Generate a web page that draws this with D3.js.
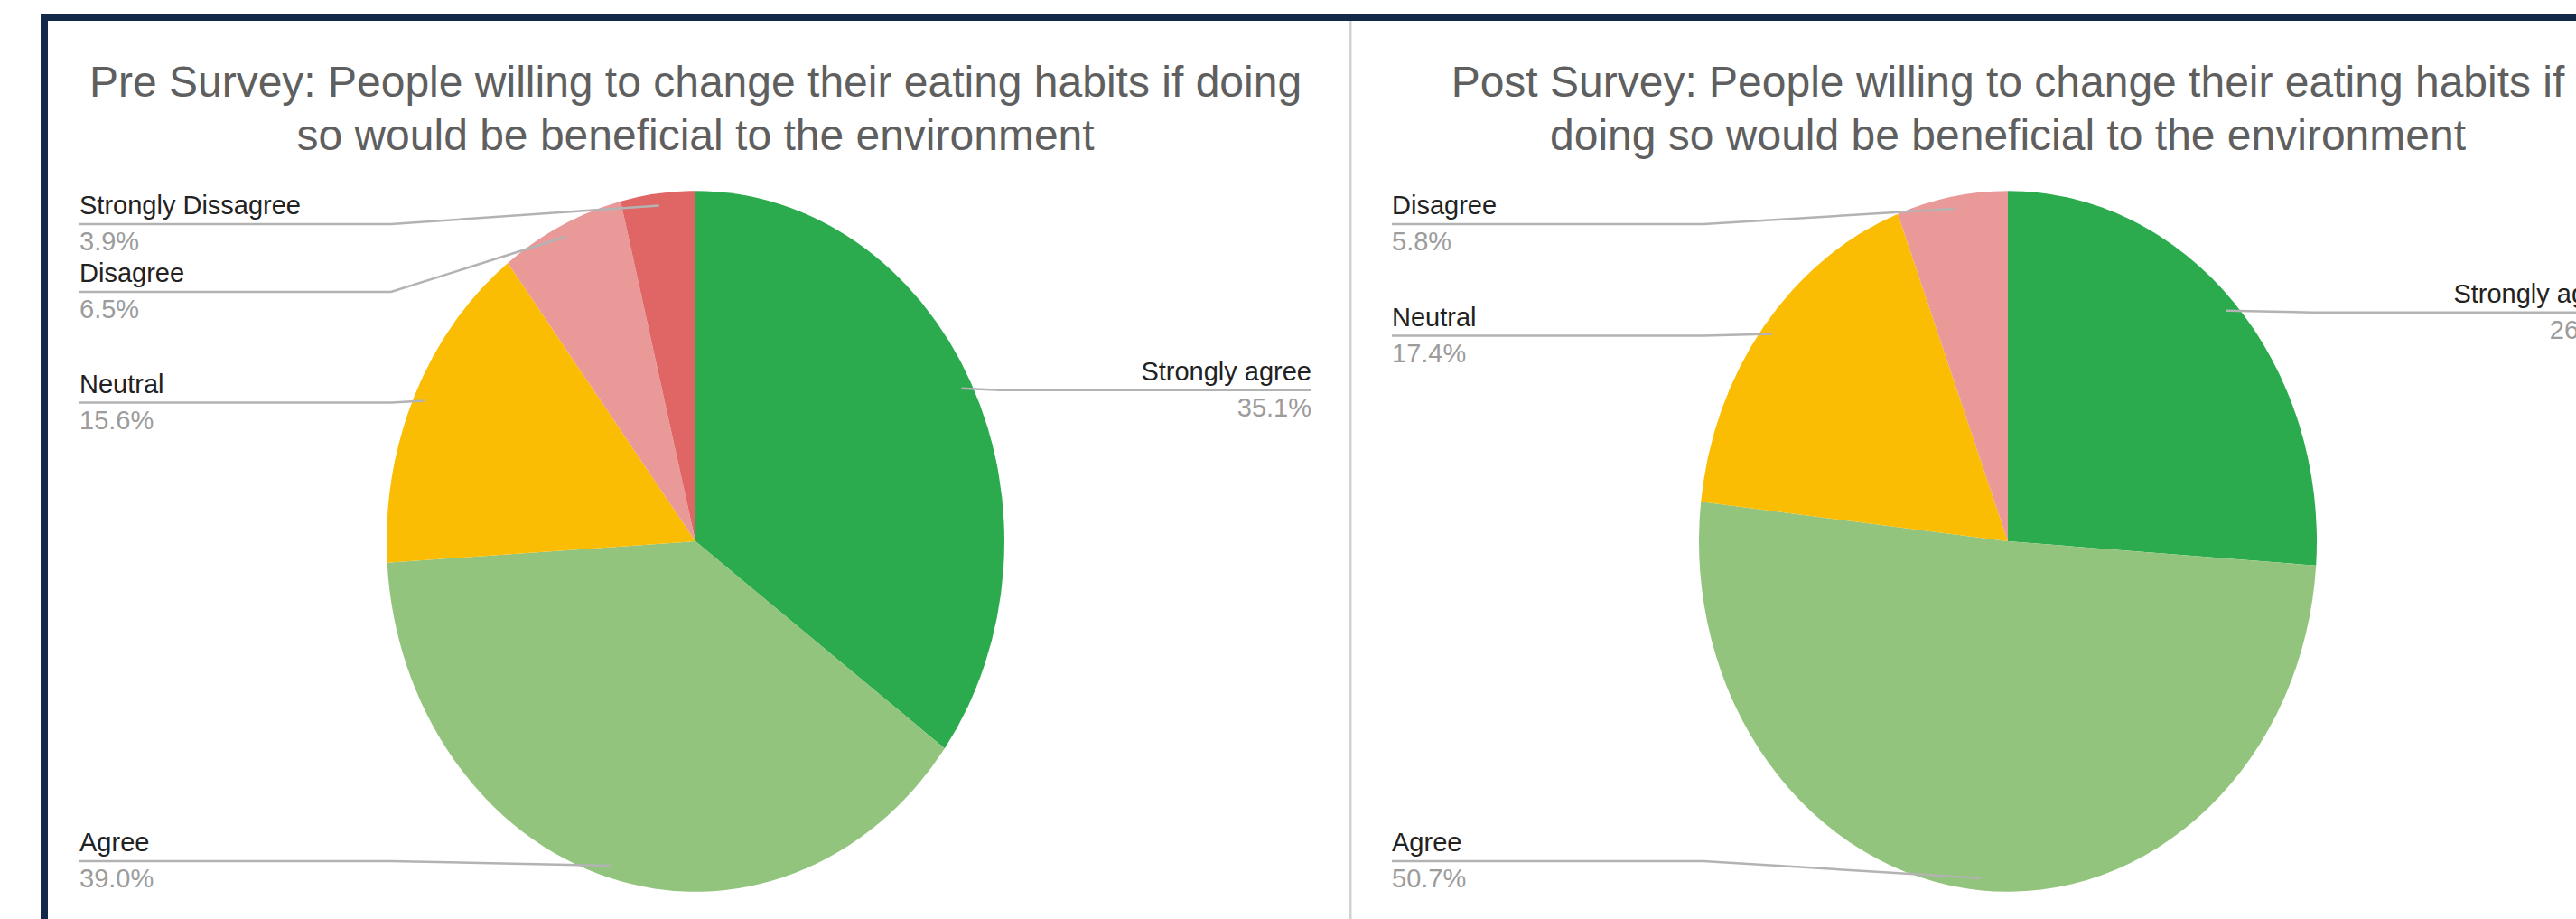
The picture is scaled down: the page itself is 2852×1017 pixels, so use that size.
<!DOCTYPE html>
<html>
<head>
<meta charset="utf-8">
<script src="https://cdn.jsdelivr.net/npm/d3@7"></script>
<style>
  html, body { margin: 0; padding: 0; background: #ffffff; }
  svg { display: block; }
  text { font-family: "Liberation Sans", Arial, "DejaVu Sans", sans-serif; }
</style>
</head>
<body>
<script>
// Survey answers (percent of respondents), before and after
const preLabels = ["Strongly agree", "Agree", "Neutral", "Disagree", "Strongly Dissagree"];
const preValues = [35.1, 39.0, 15.6, 6.5, 3.9];

const postLabels = ["Strongly agree", "Agree", "Neutral", "Disagree"];
const postValues = [26.1, 50.7, 17.4, 5.8];

const answerColors = {
  "Strongly agree": "#2baa4e",
  "Agree": "#93c47d",
  "Neutral": "#fbbc04",
  "Disagree": "#ea9999",
  "Strongly Dissagree": "#e06666"
};

const preTitle = ["Pre Survey: People willing to change their eating habits if doing",
                  "so would be beneficial to the environment"];
const postTitle = ["Post Survey: People willing to change their eating habits if",
                   "doing so would be beneficial to the environment"];

const W = 2852, H = 1017;
const svg = d3.select("body").append("svg").attr("width", W).attr("height", H);
svg.append("rect").attr("width", W).attr("height", H).attr("fill", "#ffffff");

// Outer frame (top and left edges) and the divider between the two panels
svg.append("rect").attr("x", 45).attr("y", 15).attr("width", W - 45).attr("height", 8).attr("fill", "#13294a");
svg.append("rect").attr("x", 45).attr("y", 15).attr("width", 8).attr("height", H - 15).attr("fill", "#13294a");
svg.append("line").attr("x1", 1495).attr("x2", 1495).attr("y1", 23).attr("y2", H)
  .attr("stroke", "#d2d2d2").attr("stroke-width", 3);

const radius = 342;        // horizontal radius of the pie
const stretchY = 1.134;    // vertical stretch of the pie
const labelOffset = 682;   // distance of the label column from the pie centre
const elbowLen = 345;      // length of the horizontal part of each leader line
const topLine = 248, bottomLine = 953, minGap = 75;

function drawPie(cx, cy, labels, values, title) {
  const g = svg.append("g");

  // title
  title.forEach((line, i) => {
    g.append("text")
      .attr("x", cx).attr("y", 107 + i * 59)
      .attr("text-anchor", "middle")
      .attr("font-size", 48)
      .attr("fill", "#5f5f5f")
      .text(line);
  });

  const data = labels.map((l, i) => ({ label: l, value: values[i] }));
  const pie = d3.pie().sort(null).value(d => d.value);
  const arcs = pie(data);
  const arc = d3.arc().innerRadius(0).outerRadius(radius);
  const anchorArc = d3.arc().innerRadius(radius * 0.965).outerRadius(radius * 0.965);

  const pieG = g.append("g").attr("transform", `translate(${cx},${cy}) scale(1,${stretchY})`);
  pieG.selectAll("path").data(arcs).join("path")
    .attr("d", arc)
    .attr("fill", d => answerColors[d.data.label]);

  // anchor points inside each slice, in page coordinates
  const items = arcs.map(d => {
    const c = anchorArc.centroid(d);
    return {
      d,
      ax: cx + c[0],
      ay: cy + c[1] * stretchY,
      side: c[0] >= 0 ? "right" : "left"
    };
  });

  // stack labels on each side, keeping them apart and inside the panel
  ["left", "right"].forEach(side => {
    const s = items.filter(it => it.side === side).sort((a, b) => a.ay - b.ay);
    let prev = -Infinity;
    s.forEach(it => {
      let y = Math.max(it.ay + 2, topLine, prev + minGap);
      y = Math.min(y, bottomLine);
      it.lineY = y;
      prev = y;
    });
  });

  const line = d3.line();
  items.forEach(it => {
    const left = it.side === "left";
    const lx = left ? cx - labelOffset : cx + labelOffset;
    const ex = left ? lx + elbowLen : lx - elbowLen;
    const pts = [[lx, it.lineY]];
    if (left ? ex < it.ax : ex > it.ax) pts.push([ex, it.lineY]);
    pts.push([it.ax, it.ay]);

    g.append("path")
      .attr("d", line(pts))
      .attr("fill", "none")
      .attr("stroke", "#b3b3b3")
      .attr("stroke-width", 2.5);

    g.append("text")
      .attr("x", lx).attr("y", it.lineY - 11)
      .attr("text-anchor", left ? "start" : "end")
      .attr("font-size", 29)
      .attr("fill", "#222222")
      .text(it.d.data.label);

    g.append("text")
      .attr("x", lx).attr("y", it.lineY + 29)
      .attr("text-anchor", left ? "start" : "end")
      .attr("font-size", 29)
      .attr("fill", "#9c9c9c")
      .text(it.d.data.value.toFixed(1) + "%");
  });
}

drawPie(770, 599, preLabels, preValues, preTitle);
drawPie(2223, 599, postLabels, postValues, postTitle);
</script>
</body>
</html>
